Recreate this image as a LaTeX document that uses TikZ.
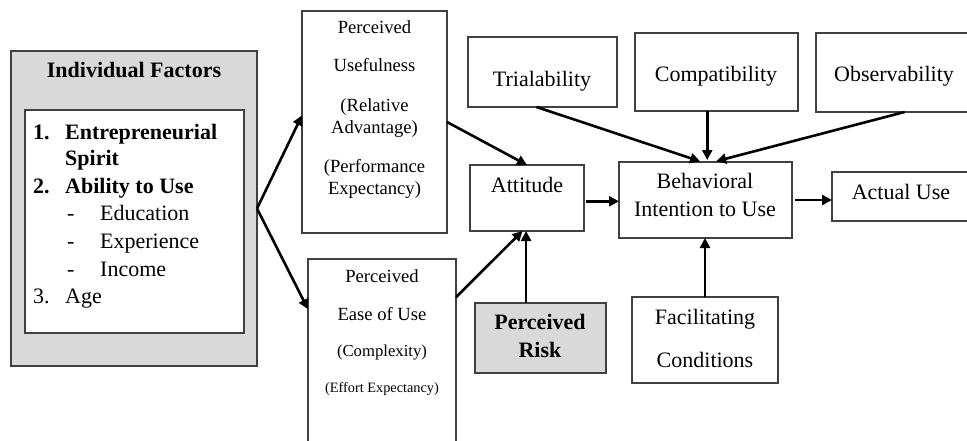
\documentclass[tikz,border=0pt]{standalone}
\usepackage{fontspec}
\setmainfont{Liberation Serif}
\usetikzlibrary{arrows.meta,calc}
\definecolor{boxline}{HTML}{404040}
\definecolor{boxgray}{HTML}{D9D9D9}
\begin{document}
\begin{tikzpicture}[x=1pt,y=-1pt,
  box/.style={draw=boxline, line width=1.3pt, fill=white, inner sep=0pt, outer sep=0pt},
  graybox/.style={box, fill=boxgray},
  arr/.style={line width=2.6pt, -{Triangle[length=10pt,width=10pt]}},
  ta/.style={inner sep=0pt, text height=14.5pt, text depth=0pt, font=\fontsize{22}{26}\selectfont},
  tab/.style={ta, font=\fontsize{22}{26}\selectfont\bfseries},
  tb/.style={inner sep=0pt, text height=12.3pt, text depth=0pt, font=\fontsize{18.6}{22}\selectfont},
  tc/.style={inner sep=0pt, text height=11pt, text depth=0pt, font=\fontsize{16.7}{20}\selectfont},
  td/.style={inner sep=0pt, text height=9.4pt, text depth=0pt, font=\fontsize{14.3}{17}\selectfont},
]
\useasboundingbox (0,0) rectangle (967,440);
\clip (0,0) rectangle (967,440);

% Individual factors
\node[graybox, minimum width=246pt, minimum height=315pt] (ifo) at (134,208.5) {};
\node[box, minimum width=219pt, minimum height=223pt] (ifi) at (134.5,221.5) {};
\node[tab] (iftitle) at (134,70) {Individual Factors};
\node[tab, anchor=west] (l1n) at (33,132) {1.};
\node[tab, anchor=west] (l1) at (65,132) {Entrepreneurial};
\node[tab, anchor=west] (l1b) at (65,158) {Spirit};
\node[tab, anchor=west] (l2n) at (33,186) {2.};
\node[tab, anchor=west] (l2) at (65,186) {Ability to Use};
\node[ta, anchor=west] (d1) at (67,213) {-};
\node[ta, anchor=west] (e1) at (100,213) {Education};
\node[ta, anchor=west] (d2) at (67,241) {-};
\node[ta, anchor=west] (e2) at (100,241) {Experience};
\node[ta, anchor=west] (d3) at (67,269) {-};
\node[ta, anchor=west] (e3) at (100,269) {Income};
\node[ta, anchor=west] (l3n) at (33,296) {3.};
\node[ta, anchor=west] (l3) at (65,296) {Age};

% Perceived usefulness
\node[box, minimum width=145pt, minimum height=222pt] (pu) at (374.5,122) {};
\node[tb] (pu1) at (374.5,27) {Perceived};
\node[tb] (pu2) at (374.5,65) {Usefulness};
\node[tb] (pu3) at (374.5,105) {(Relative};
\node[tb] (pu4) at (374.5,127) {Advantage)};
\node[tb] (pu5) at (374.5,166) {(Performance};
\node[tb] (pu6) at (374.5,188) {Expectancy)};

% Perceived ease of use
\node[box, minimum width=148pt, minimum height=201pt] (peu) at (382,359.5) {};
\node[tb] (peu1) at (382,276) {Perceived};
\node[tb] (peu2) at (382,314) {Ease of Use};
\node[tc] (peu3) at (382,351) {(Complexity)};
\node[td] (peu4) at (382,388) {(Effort Expectancy)};

% Top row
\node[box, minimum width=149pt, minimum height=70pt] (tri) at (542.5,72) {};
\node[ta] (tri1) at (542,79) {Trialability};
\node[box, minimum width=163pt, minimum height=78pt] (comp) at (716.5,72) {};
\node[ta] (comp1) at (716,74) {Compatibility};
\node[box, minimum width=164pt, minimum height=79pt] (obs) at (898,72.5) {};
\node[ta] (obs1) at (894,74) {Observability};

% Middle row
\node[box, minimum width=114pt, minimum height=66pt] (att) at (527,198) {};
\node[ta] (att1) at (527,185) {Attitude};
\node[box, minimum width=173pt, minimum height=76pt] (bi) at (705.5,200) {};
\node[ta] (bi1) at (705,181) {Behavioral};
\node[ta] (bi2) at (705,209) {Intention to Use};
\node[box, minimum width=148pt, minimum height=49pt] (au) at (906,196.5) {};
\node[ta] (au1) at (901,192) {Actual Use};

% Bottom row
\node[graybox, minimum width=131pt, minimum height=70pt] (pr) at (540.5,338) {};
\node[tab] (pr1) at (540,322) {Perceived};
\node[tab] (pr2) at (540,350) {Risk};
\node[box, minimum width=146pt, minimum height=86pt] (fc) at (705,340) {};
\node[ta] (fc1) at (705,317) {Facilitating};
\node[ta] (fc2) at (705,360) {Conditions};

% Connectors
\draw[arr] (ifo.east) -- ($(pu.north west)!0.47!(pu.south west)$);
\draw[arr] (ifo.east) -- ($(peu.north west)!0.25!(peu.south west)$);
\draw[arr] (pu.east) -- (att.north);
\draw[arr] ($(peu.north east)!0.19!(peu.south east)$) -- ($(att.south west)!0.46!(att.south east)$);
\coordinate (prtop) at ($(pr.north west)!0.39!(pr.north east)$);
\draw[arr] (prtop) -- (prtop |- att.south);
\coordinate (attr) at ($(att.north east)!0.55!(att.south east)$);
\draw[arr, shorten <=2pt] (attr) -- (attr -| bi.west);
\draw[arr, shorten <=3pt] (bi.east) -- (bi.east -| au.west);
\draw[arr, shorten >=2pt] ($(tri.south west)!0.46!(tri.south east)$) -- ($(bi.north west)!0.48!(bi.north east)$);
\coordinate (cx) at ($(bi.north west)!0.51!(bi.north east)$);
\draw[arr, shorten >=2pt] (cx |- comp.south) -- (cx);
\draw[arr, shorten >=3pt] ($(obs.south west)!0.54!(obs.south east)$) -- ($(bi.north west)!0.545!(bi.north east)$);
\draw[arr] (fc.north) -- (fc.north |- bi.south);
\end{tikzpicture}
\end{document}
